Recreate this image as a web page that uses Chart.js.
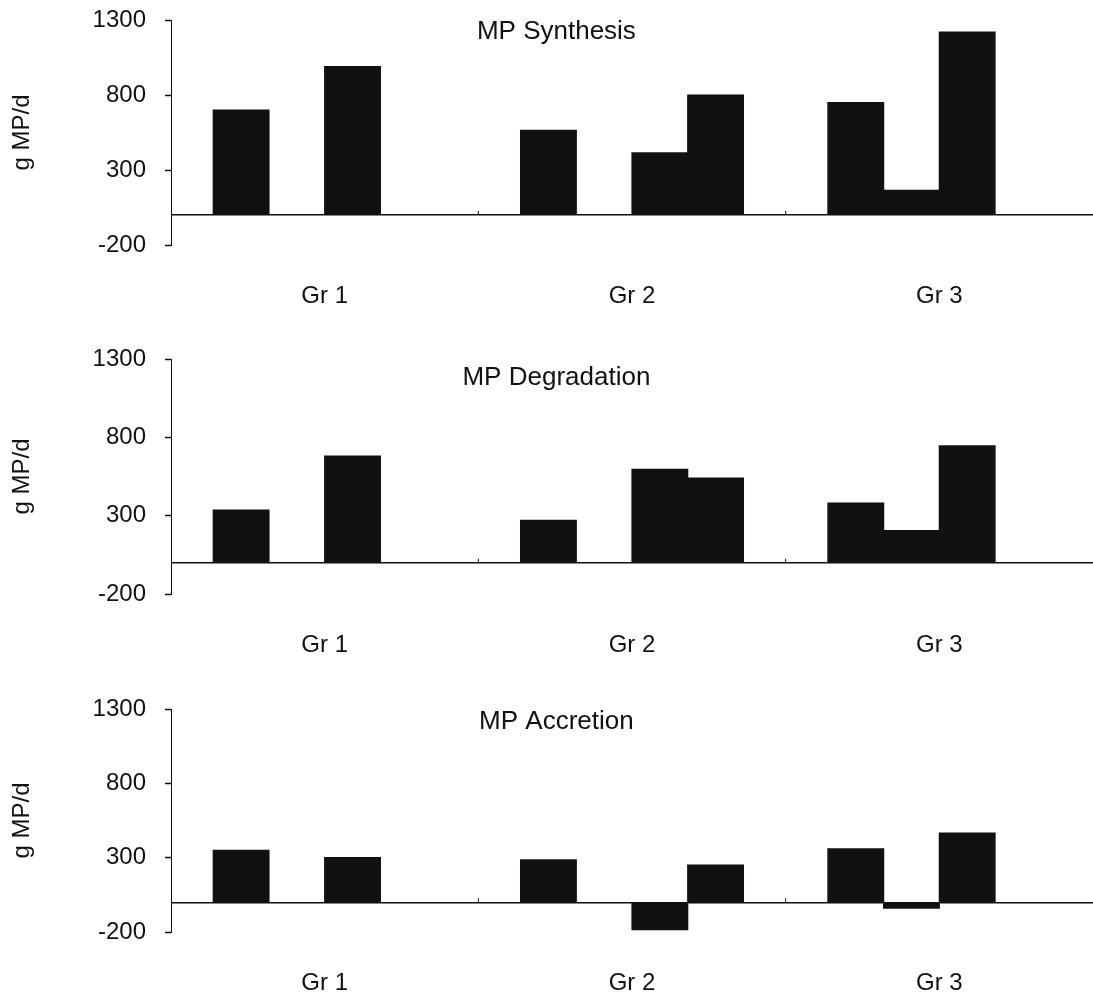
<!DOCTYPE html>
<html>
<head>
<meta charset="utf-8">
<script src="https://cdn.jsdelivr.net/npm/chart.js@4/dist/chart.umd.min.js"></script>
<style>
  body { margin: 0; background: #fff; }
  #wrap { position: relative; width: 1093px; height: 998px; overflow: hidden; }
  .panel { position: absolute; left: 0; width: 1093px; }
</style>
</head>
<body>
<div id="wrap">
  <div class="panel" style="top:0px;height:330px"><canvas id="synthesis" width="1093" height="330"></canvas></div>
  <div class="panel" style="top:330px;height:350px"><canvas id="degradation" width="1093" height="350"></canvas></div>
  <div class="panel" style="top:680px;height:318px"><canvas id="accretion" width="1093" height="318"></canvas></div>
</div>
<script>
// groups on the x axis, ticks on the y axis
const groups = ['Gr 1', 'Gr 2', 'Gr 3'];
const yTicks = [-200, 300, 800, 1300];

// each panel has four bar slots per group (null = empty slot)
const synthesis1 = [700, 565, 750];
const synthesis2 = [null, null, 165];
const synthesis3 = [990, 415, 1220];
const synthesis4 = [null, 800, null];

const degradation1 = [335, 270, 380];
const degradation2 = [null, null, 205];
const degradation3 = [680, 595, 745];
const degradation4 = [null, 540, null];

const accretion1 = [350, 285, 360];
const accretion2 = [null, null, -40];
const accretion3 = [300, -185, 465];
const accretion4 = [null, 250, null];

const INK = '#111';
const FONT = "'Liberation Sans', Arial, sans-serif";

// title drawn inside the plot area, plus little marks on the zero line between groups
const panelDecor = {
  id: 'panelDecor',
  afterDatasetsDraw(chart, args, opts) {
    const { ctx, chartArea } = chart;
    const x = chart.scales.x;
    const y = chart.scales.y;
    const y0 = y.getPixelForValue(0);
    ctx.save();
    ctx.strokeStyle = INK;
    ctx.lineWidth = 1;
    for (let i = 1; i < groups.length; i++) {
      const bx = (x.getPixelForValue(i - 1) + x.getPixelForValue(i)) / 2;
      ctx.beginPath();
      ctx.moveTo(bx, y0);
      ctx.lineTo(bx, y0 - 4);
      ctx.stroke();
    }
    ctx.fillStyle = INK;
    ctx.font = '26px ' + FONT;
    ctx.textAlign = 'center';
    ctx.textBaseline = 'middle';
    ctx.fillText(opts.text, chartArea.left + chartArea.width * 0.418, chartArea.top + opts.dy);
    ctx.restore();
  }
};

function drawPanel(canvasId, title, series, padTop, padBottom, titleDy) {
  const ctx = document.getElementById(canvasId).getContext('2d');
  return new Chart(ctx, {
    type: 'bar',
    data: {
      labels: groups,
      datasets: series.map((values, i) => ({
        label: 'Bar ' + (i + 1),
        data: values,
        backgroundColor: INK,
        borderWidth: 0,
        inflateAmount: 0.6
      }))
    },
    options: {
      responsive: false,
      animation: false,
      devicePixelRatio: 1,
      layout: { padding: { top: padTop, bottom: padBottom, left: 0, right: 0 } },
      datasets: { bar: { barPercentage: 1.0, categoryPercentage: 0.725 } },
      plugins: {
        legend: { display: false },
        tooltip: { enabled: false },
        panelDecor: { text: title, dy: titleDy }
      },
      scales: {
        x: {
          grid: { display: false, drawTicks: false },
          border: { display: false },
          ticks: {
            color: INK,
            padding: 37,
            font: { family: FONT, size: 24 }
          },
          afterFit(scale) { scale.height = 66; }
        },
        y: {
          min: -200,
          max: 1300,
          afterBuildTicks(scale) {
            scale.ticks = yTicks.concat([0]).sort((a, b) => a - b).map(v => ({ value: v }));
          },
          afterFit(scale) { scale.width = 171; },
          border: { display: true, color: INK, width: 1 },
          grid: {
            drawTicks: true,
            tickLength: 22,
            // the tick line runs from the label side to the axis: skip 16px, draw the last 6px
            tickBorderDash: [6, 16],
            tickBorderDashOffset: 6,
            tickWidth: 1.5,
            lineWidth: ctx => (ctx.tick && ctx.tick.value === 0 ? 1.5 : 1),
            color: ctx => (ctx.tick && ctx.tick.value === 0 ? INK : 'rgba(0,0,0,0)'),
            tickColor: ctx => (ctx.tick && ctx.tick.value === 0 ? 'rgba(0,0,0,0)' : INK)
          },
          ticks: {
            color: INK,
            padding: 3,
            font: { family: FONT, size: 24 },
            callback: value => (yTicks.includes(value) ? String(value) : '')
          },
          title: {
            display: true,
            text: 'g MP/d',
            color: INK,
            padding: { top: 8, bottom: 0 },
            font: { family: FONT, size: 24 }
          }
        }
      }
    },
    plugins: [panelDecor]
  });
}

drawPanel('synthesis', 'MP Synthesis',
  [synthesis1, synthesis2, synthesis3, synthesis4], 20, 19, 12);
drawPanel('degradation', 'MP Degradation',
  [degradation1, degradation2, degradation3, degradation4], 29, 20, 19);
drawPanel('accretion', 'MP Accretion',
  [accretion1, accretion2, accretion3, accretion4], 29, 0, 13);
</script>
</body>
</html>
